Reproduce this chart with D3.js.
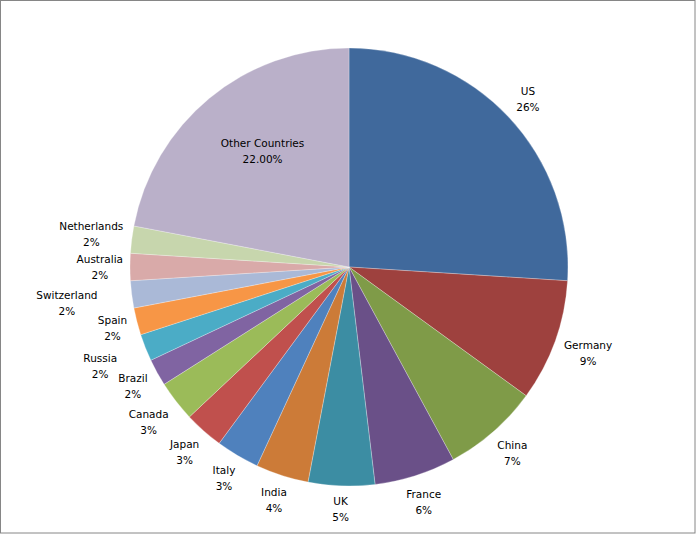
<!DOCTYPE html>
<html>
<head>
<meta charset="utf-8">
<script src="https://cdn.jsdelivr.net/npm/d3@7"></script>
<style>
  body { margin: 0; background: #fff; }
  svg text { font-family: "DejaVu Sans", Verdana, sans-serif; font-size: 10.5px; fill: #000; }
</style>
</head>
<body>
<div id="chart"></div>
<script>
// data
var countries = ["US", "Germany", "China", "France", "UK", "India", "Italy", "Japan",
    "Canada", "Brazil", "Russia", "Spain", "Switzerland", "Australia", "Netherlands", "Other Countries"];
var shares = [26, 9, 7.1, 6, 4.9, 3.9, 3.2, 2.9, 3, 2, 2, 2, 2, 2, 2, 22];
var pctLabels = ["26%", "9%", "7%", "6%", "5%", "4%", "3%", "3%",
    "3%", "2%", "2%", "2%", "2%", "2%", "2%", "22.00%"];
var colors = ["#40699c", "#9e413e", "#7f9b48", "#6a5088", "#3c8da3", "#cc7b38", "#4f81bd", "#c0504d",
    "#9bbb59", "#8064a2", "#4bacc6", "#f79646", "#aab9d7", "#d9aaa9", "#c7d6ad", "#bab0c9"];

var width = 697, height = 535;
var cx = 349, cy = 267, radius = 219;

var svg = d3.select("#chart")
    .append("svg")
    .attr("width", width)
    .attr("height", height);

// chart frame
svg.append("rect")
    .attr("x", 0.5).attr("y", 0.5)
    .attr("width", width - 2.5).attr("height", height - 2.5)
    .attr("fill", "#fff")
    .attr("stroke", "#868686")
    .attr("stroke-width", 1);

var data = countries.map((c, i) => ({ name: c, value: shares[i], label: pctLabels[i], color: colors[i] }));

var pie = d3.pie()
    .sort(null)
    .value(d => d.value)
    .startAngle(0)
    .endAngle(2 * Math.PI);

var arcs = pie(data);

var arc = d3.arc().innerRadius(0).outerRadius(radius);

var g = svg.append("g")
    .attr("transform", "translate(" + cx + "," + cy + ")");

g.selectAll("path")
    .data(arcs)
    .enter()
    .append("path")
    .attr("d", arc)
    .attr("fill", d => d.data.color)
    .attr("stroke", "rgba(255,255,255,0.45)")
    .attr("stroke-width", 0.6);

// labels
var lineH = 16;
var labels = g.selectAll("g.lbl")
    .data(arcs)
    .enter()
    .append("g")
    .attr("class", "lbl");

labels.append("text")
    .attr("text-anchor", "middle")
    .attr("y", -lineH / 2 + 4)
    .text(d => d.data.name);
labels.append("text")
    .attr("text-anchor", "middle")
    .attr("y", lineH / 2 + 4)
    .text(d => d.data.label);

var boxes = [];
labels.each(function (d, i) {
    var w = 0;
    d3.select(this).selectAll("text").each(function () {
        w = Math.max(w, this.getComputedTextLength());
    });
    var h = lineH * 2;
    var a = (d.startAngle + d.endAngle) / 2;
    var ux = Math.sin(a), uy = -Math.cos(a);
    var px, py;
    if (i == arcs.length - 1) {
        // big slice: label inside
        var c = d3.arc().innerRadius(radius * 0.66).outerRadius(radius * 0.66)
            .centroid({ startAngle: d.startAngle, endAngle: d.endAngle + 0.1 });
        px = c[0]; py = c[1];
    } else {
        var dist = radius + 7 + w / 2 * Math.abs(ux) + h / 2 * Math.abs(uy);
        px = dist * ux; py = dist * uy;
        // push outwards while overlapping an earlier label
        var tries = 0;
        while (tries < 40 && boxes.some(b =>
            Math.abs(b.x - px) < (b.w + w) / 2 && Math.abs(b.y - py) < (b.h + h) / 2)) {
            dist += 2;
            px = dist * ux; py = dist * uy;
            tries++;
        }
    }
    boxes.push({ x: px, y: py, w: w, h: h });
    d3.select(this).attr("transform", "translate(" + px + "," + py + ")");
});
</script>
</body>
</html>
